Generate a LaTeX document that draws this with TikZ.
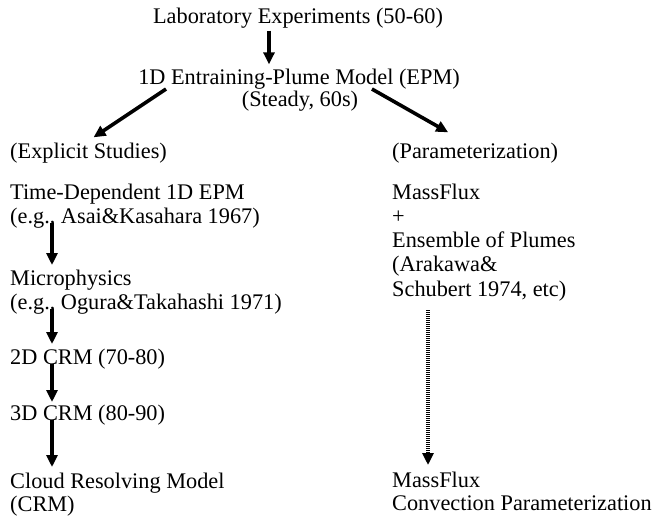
\documentclass[tikz,border=0pt]{standalone}
\usepackage{fontspec}
\setmainfont{Liberation Serif}
\usepackage{tikz}
\usetikzlibrary{positioning,arrows.meta,calc}

\begin{document}
\begin{tikzpicture}[
  x=1pt,y=-1pt,
  txt/.style={inner sep=0pt,anchor=base west,font=\fontsize{22.3}{24.3}\selectfont},
  ctr/.style={txt,anchor=base},
  arr/.style={-{Triangle[length=12pt,width=11pt]},line width=3.6pt,color=black},
  dotarr/.style={arr,dash pattern=on 1pt off 1pt}
]
  \useasboundingbox (0,0) rectangle (655,517);
  % top
  \node[ctr] (lab) at (298,23) {Laboratory Experiments (50-60)};
  \node[ctr] (epm) at (299,84) {1D Entraining-Plume Model (EPM)};
  \node[ctr] (steady) at (300,106) {(Steady, 60s)};
  % left column
  \node[txt] (expl) at (10,158) {(Explicit Studies)};
  \node[txt] (td) at (10,199) {Time-Dependent 1D EPM};
  \node[txt] (asai) at (10,223) {(e.g., Asai\&Kasahara 1967)};
  \node[txt] (micro) at (10,285) {Microphysics};
  \node[txt] (ogura) at (10,309) {(e.g., Ogura\&Takahashi 1971)};
  \node[txt] (crmb) at (10,364) {2D CRM (70-80)};
  \node[txt] (crmc) at (10,420) {3D CRM (80-90)};
  \node[txt] (cloud) at (10,488) {Cloud Resolving Model};
  \node[txt] (crm) at (10,511) {(CRM)};
  % right column
  \node[txt] (param) at (392,158) {(Parameterization)};
  \node[txt] (mfa) at (392,199) {MassFlux};
  \node[txt] (plus) at (392,223) {+};
  \node[txt] (ens) at (392,247) {Ensemble of Plumes};
  \node[txt] (arak) at (392,271) {(Arakawa\&};
  \node[txt] (schub) at (392,296) {Schubert 1974, etc)};
  \node[txt] (mfb) at (392,487) {MassFlux};
  \node[txt] (conv) at (392,510) {Convection Parameterization};

  \coordinate (lx) at (52,0);
  \coordinate (rx) at (428,0);
  \coordinate (tx) at (269,0);

  \draw[arr,shorten <=2.5pt,shorten >=4pt] (lab.south -| tx) -- (epm.north -| tx);
  \draw[arr] ($(epm.south west)+(28,0)$) -- ($(expl.north)+(5,-5)$);
  \draw[arr] ($(epm.south east)+(-88,0)$) -- ($(param.north)+(-27,-10)$);
  \draw[arr] (asai.base -| lx) -- ([yshift=20pt]micro.base -| lx);
  \draw[arr] (ogura.base -| lx) -- ([yshift=20pt]crmb.base -| lx);
  \draw[arr] (crmb.base -| lx) -- ([yshift=18pt]crmc.base -| lx);
  \draw[arr] (crmc.base -| lx) -- ([yshift=21pt]cloud.base -| lx);
  \draw[dotarr,shorten <=14pt] (schub.base -| rx) -- ([yshift=22pt]mfb.base -| rx);
\end{tikzpicture}
\end{document}
